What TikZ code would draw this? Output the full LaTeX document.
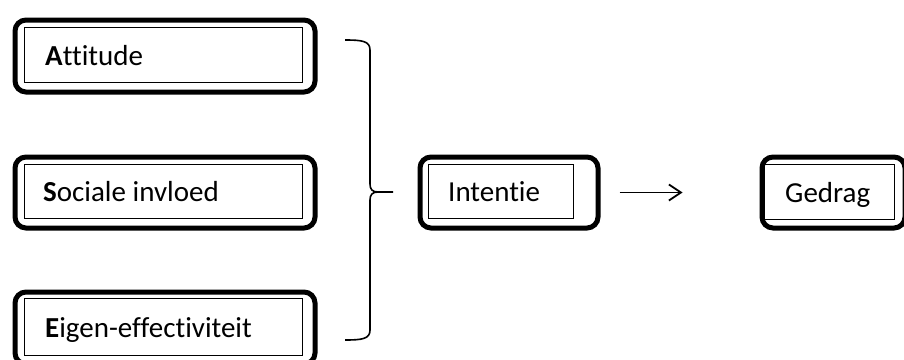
\documentclass[tikz,border=0pt]{standalone}
\usepackage{fontspec}
\setmainfont{Carlito}[Ligatures={NoCommon}]
\usetikzlibrary{arrows.meta}
\begin{document}
\begin{tikzpicture}[x=1pt,y=-1pt,
  outerbox/.style={draw, line width=5pt, rounded corners=11pt, inner sep=0pt, anchor=north west, minimum height=72pt},
  innerbox/.style={draw, line width=1.2pt, inner sep=0pt, anchor=north west, minimum height=55pt},
  lbl/.style={font=\fontsize{29}{31}\selectfont, anchor=base west, inner sep=0pt},
  conn/.style={line width=1.6pt}]
\useasboundingbox (0,0) rectangle (904,359);
\clip (0,0) rectangle (904,359);
% Attitude
\node[outerbox, minimum width=300pt] (ao) at (12.5,17.5) {};
\node[innerbox, minimum width=278pt] (ai) at (23.5,26.5) {};
\node[lbl] (at) at ([xshift=21.5pt,yshift=-10.5pt]ai.west) {\textbf{A}ttitude};
% Sociale invloed
\node[outerbox, minimum width=300pt, minimum height=71pt] (so) at (12.5,154.5) {};
\node[innerbox, minimum width=278pt, minimum height=54pt] (si) at (23.5,163.5) {};
\node[lbl] (st) at ([xshift=19.5pt,yshift=-10.5pt]si.west) {\textbf{S}ociale invloed};
% Eigen-effectiviteit
\node[outerbox, minimum width=300pt] (eo) at (12.5,289.5) {};
\node[innerbox, minimum width=278pt, minimum height=57pt] (ei) at (23.5,297.5) {};
\node[lbl] (et) at ([xshift=21.5pt,yshift=-10.5pt]ei.west) {\textbf{E}igen-effectiviteit};
% Intentie
\node[outerbox, minimum width=178pt, minimum height=71pt] (io) at (417.5,154.5) {};
\node[innerbox, minimum width=145pt, minimum height=54pt] (ii) at (427.5,163.5) {};
\node[lbl] (it) at ([xshift=20.5pt,yshift=-10.5pt]ii.west) {Intentie};
% Gedrag
\node[outerbox, minimum width=143pt, minimum height=71pt] (go) at (759.5,154.5) {};
\node[innerbox, minimum width=130pt, minimum height=55pt] (gi) at (763.5,163.5) {};
\node[lbl] (gt) at ([xshift=21.5pt,yshift=-10.5pt]gi.west) {Gedrag};
% brace
\coordinate (btop) at (345,40);
\coordinate (bbot) at (345,340);
\coordinate (btip) at (393,192);
\draw[conn] (btop) .. controls (362,40) and (370,41) .. (370,50)
  -- (370,184) .. controls (370,189) and (372,192) .. (378,192) -- (btip);
\draw[conn] (bbot) .. controls (362,340) and (370,339) .. (370,330)
  -- (370,200) .. controls (370,195) and (372,192) .. (378,192);
% arrow
\draw[conn, line width=1.8pt, -{Straight Barb[length=12pt,width=16pt,line width=1.8pt]}]
  ([xshift=19pt]io.east) -- ([xshift=-77pt]go.west);
\end{tikzpicture}
\end{document}
